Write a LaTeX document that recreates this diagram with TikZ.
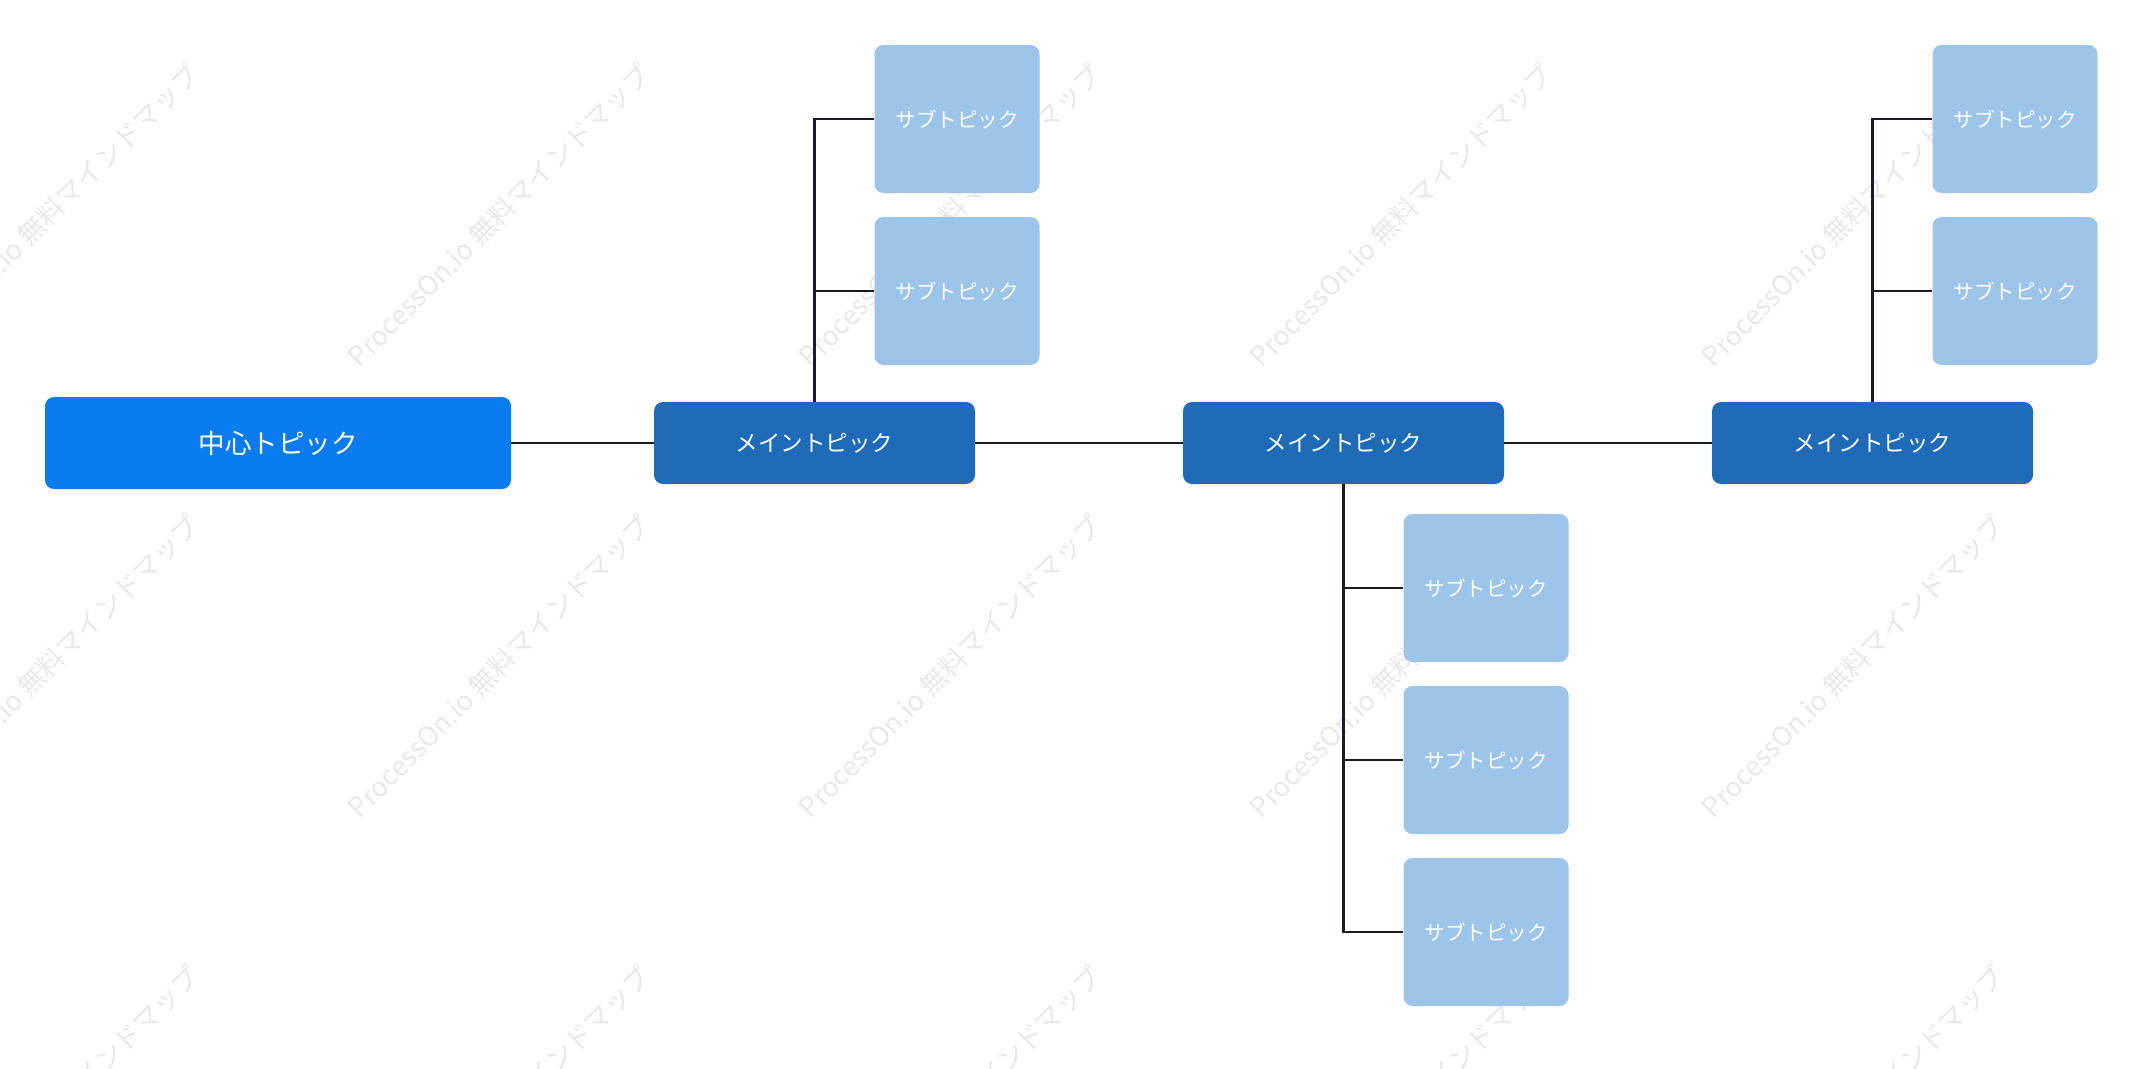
\documentclass[tikz,border=0pt]{standalone}
\usepackage{fontspec}
\newfontfamily\jp{Noto Sans CJK JP}
\definecolor{centerblue}{HTML}{0A7CF0}
\definecolor{mainblue}{HTML}{1F6BB8}
\definecolor{subblue}{HTML}{9DC5E9}
\definecolor{linecol}{HTML}{1A1A2A}
\definecolor{wmcol}{HTML}{E9E9E9}
\tikzset{
  centerbox/.style={fill=centerblue, rounded corners=9pt, minimum width=466pt, minimum height=92pt, inner sep=0pt, text=white, font=\jp\fontsize{26.5}{30}\selectfont},
  mainbox/.style={fill=mainblue, rounded corners=9pt, minimum width=321pt, minimum height=82pt, inner sep=0pt, text=white, font=\jp\fontsize{22.5}{26}\selectfont},
  subbox/.style={fill=subblue, rounded corners=9pt, minimum width=165pt, minimum height=148pt, inner sep=0pt, text=white, font=\jp\fontsize{20.5}{24}\selectfont},
  conn/.style={draw=linecol, line width=2.8pt},
  wmark/.style={text=wmcol, rotate=45, font=\jp\fontsize{27}{30}\selectfont, inner sep=0pt}
}
\begin{document}
\begin{tikzpicture}[x=1pt,y=-1pt]
\useasboundingbox (0,0) rectangle (2144,1068);
% watermarks
\foreach \wx in {48,499,950,1401,1853} {
  \foreach \wy in {215,666,1117} {
    \node[wmark] at (\wx,\wy) {ProcessOn.io 無料マインドマップ};
  }
}
% nodes
\node[centerbox] (c) at (278,443) {中心トピック};
\node[mainbox] (m1) at (814.5,443) {メイントピック};
\node[mainbox] (m2) at (1343.5,443) {メイントピック};
\node[mainbox] (m3) at (1872.5,443) {メイントピック};
\node[subbox] (s1a) at (957,119) {サブトピック};
\node[subbox] (s1b) at (957,291) {サブトピック};
\node[subbox] (s3a) at (2015,119) {サブトピック};
\node[subbox] (s3b) at (2015,291) {サブトピック};
\node[subbox] (s2a) at (1486,588) {サブトピック};
\node[subbox] (s2b) at (1486,760) {サブトピック};
\node[subbox] (s2c) at (1486,932) {サブトピック};
% connectors
\draw[conn] (c.east) -- (m1.west);
\draw[conn] (m1.east) -- (m2.west);
\draw[conn] (m2.east) -- (m3.west);
\draw[conn] (m1.north) |- (s1a.west);
\draw[conn] (m1.north) |- (s1b.west);
\draw[conn] (m3.north) |- (s3a.west);
\draw[conn] (m3.north) |- (s3b.west);
\draw[conn] (m2.south) |- (s2a.west);
\draw[conn] (m2.south) |- (s2b.west);
\draw[conn] (m2.south) |- (s2c.west);
\end{tikzpicture}
\end{document}
